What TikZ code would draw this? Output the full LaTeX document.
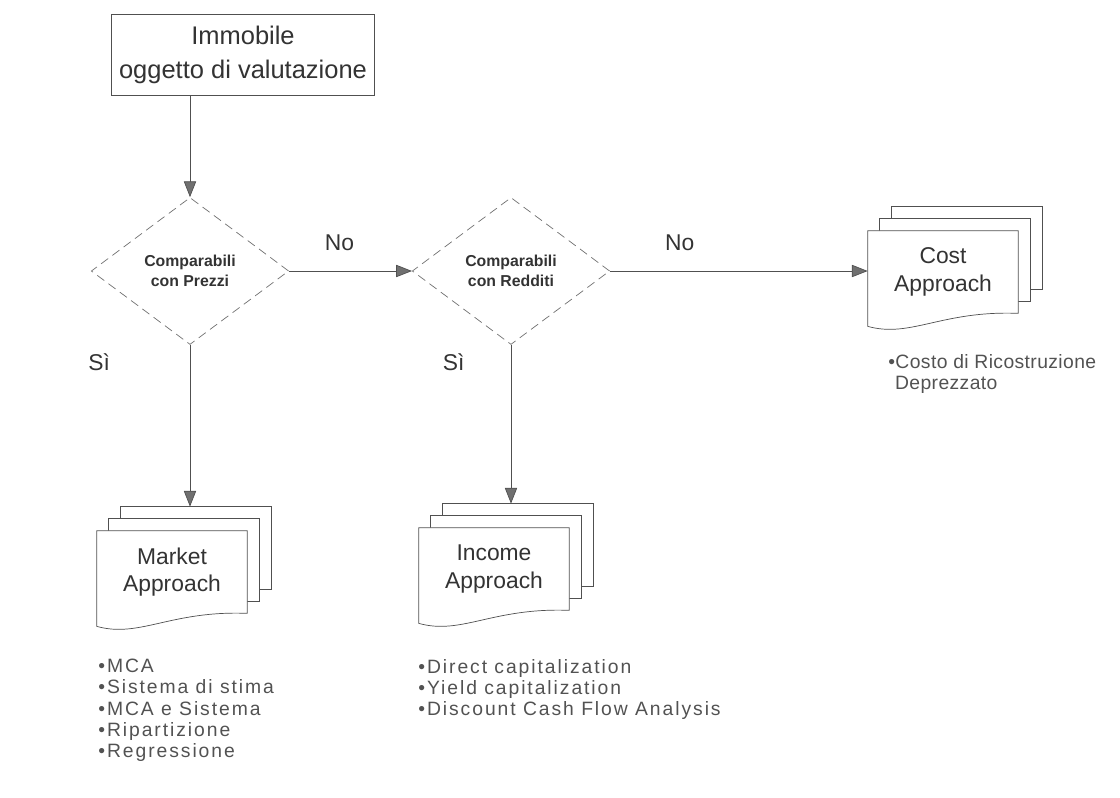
\documentclass[tikz,border=0pt]{standalone}
\usepackage{fontspec}
\setmainfont{Liberation Sans}
\newfontfamily\listfont[LetterSpace=10]{Liberation Sans}
\usetikzlibrary{positioning,shapes.geometric,arrows.meta,backgrounds}
\definecolor{ink}{HTML}{333333}
\definecolor{lineg}{HTML}{505050}
\definecolor{headg}{HTML}{707070}
\tikzset{
  titlebox/.style={rectangle, draw=lineg, fill=white, minimum width=5.26cm, minimum height=1.62cm, align=center, font=\fontsize{14.5}{19}\selectfont, text=ink},
  choice/.style={diamond, draw=headg, dash pattern=on 5pt off 3pt, minimum width=3.95cm, minimum height=2.94cm, inner sep=0pt, align=center, font=\bfseries\fontsize{9}{11}\selectfont, text=ink},
  doc/.style={rectangle, minimum width=3cm, minimum height=1.64cm, align=center, font=\fontsize{13}{15.5}\selectfont, text=ink},
  sheet/.style={draw=lineg, fill=white},
  bullets/.style={anchor=north west, align=left, inner sep=0pt, font=\listfont\fontsize{11}{12}\selectfont, text=ink!85},
  lbl/.style={font=\fontsize{13}{15}\selectfont, text=ink},
  flow/.style={draw=lineg, -{Triangle[length=9pt,width=7pt,fill=headg]}}
}
\begin{document}
\begin{tikzpicture}[x=0.02cm, y=-0.02cm]
  \useasboundingbox (0,0) rectangle (1120,798);
  % start
  \node [titlebox] (obj) at (243,55) {Immobile\\oggetto di valutazione};
  % questions
  \node [choice] (prezzi) at (190,271) {Comparabili\\con Prezzi};
  \node [choice] (redditi) at (511,271) {Comparabili\\con Redditi};
  % approaches
  \node [doc] (market) at (172,572) {Market\\Approach};
  \node [doc] (income) at (494,569) {Income\\Approach};
  \node [doc] (cost) at (943,272) {Cost\\Approach};
  \begin{scope}[on background layer]
    \foreach \d in {market,income,cost}{
      \draw [sheet] ([shift={(24,-24)}]\d.north west) rectangle ([shift={(24,-24)}]\d.south east);
      \draw [sheet] ([shift={(12,-12)}]\d.north west) rectangle ([shift={(12,-12)}]\d.south east);
      \draw [sheet] (\d.north west) -- (\d.north east) -- (\d.south east)
        .. controls +(-77,-3) and +(43,12) .. ([shift={(0,13)}]\d.south west) -- cycle;
      \coordinate (\d-top) at ([shift={(24,-24)}]\d.north);
    }
  \end{scope}
  % methods
  \node [bullets] (marketlist) at (98,659) {•MCA\\•Sistema di stima\\•MCA e Sistema\\•Ripartizione\\•Regressione};
  \node [bullets] (incomelist) at (418,659) {•Direct capitalization\\•Yield capitalization\\•Discount Cash Flow Analysis};
  \node [bullets] (costlist) at (888,354) {\addfontfeatures{LetterSpace=2}•Costo di Ricostruzione\\\addfontfeatures{LetterSpace=2}\phantom{•}Deprezzato};
  % arrows
  \draw [flow] (obj.south -| prezzi.north) -- (prezzi.north);
  \draw [flow] (prezzi.east) -- node [lbl, above=8pt, pos=0.41] {No} (redditi.west);
  \draw [flow] (redditi.east) -- node [lbl, above=8pt, pos=0.27] {No} (redditi.east -| cost.west);
  \draw [flow] (prezzi.south) -- node [lbl, left=42pt, pos=0.11] {Sì} (prezzi.south |- market-top);
  \draw [flow] (redditi.south) -- node [lbl, left=23pt, pos=0.11] {Sì} (redditi.south |- income-top);
\end{tikzpicture}
\end{document}
